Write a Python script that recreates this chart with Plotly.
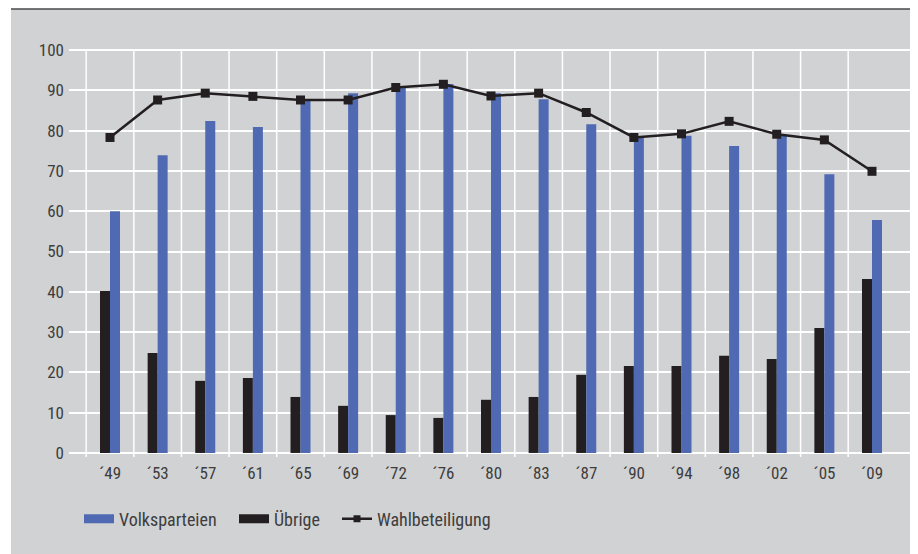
import plotly.graph_objects as go

years = ["´49", "´53", "´57", "´61", "´65", "´69", "´72", "´76", "´80",
         "´83", "´87", "´90", "´94", "´98", "´02", "´05", "´09"]
volksparteien = [60.0, 73.9, 82.4, 80.9, 87.7, 89.3, 90.7, 91.6, 89.3,
                 87.8, 81.6, 78.3, 78.7, 76.2, 78.8, 69.2, 57.8]
uebrige = [40.2, 24.8, 17.9, 18.6, 13.9, 11.7, 9.4, 8.7, 13.2,
           13.9, 19.4, 21.6, 21.6, 24.1, 23.3, 31.0, 43.2]
wahlbeteiligung = [78.3, 87.6, 89.3, 88.5, 87.6, 87.6, 90.7, 91.5, 88.6,
                   89.3, 84.5, 78.3, 79.2, 82.3, 79.1, 77.7, 69.9]
y_ticks = [0, 10, 20, 30, 40, 50, 60, 70, 80, 90, 100]

BLUE = "#4f69b2"
BLACK = "#231f20"
GRAY = "#d1d2d4"
TEXT = "#3d3d3d"
FONT = "Liberation Sans Narrow, Roboto Condensed, Open Sans, sans-serif"

OFF = 8  # page body margin of the browser
W, H = 918 - OFF, 554 - OFF
PL, PR, PT, PB = 69, 912, 46, 457  # plot area in screen pixels
idx = list(range(len(years)))


def px(p):
    return (p - PL) / (PR - PL)


def py(p):
    return (PB - p) / (PB - PT)


fig = go.Figure()
fig.add_trace(go.Bar(x=idx, y=uebrige, name="Übrige", marker_color=BLACK,
                     marker_line_width=0, width=0.21, offset=-0.21, showlegend=False))
fig.add_trace(go.Bar(x=idx, y=volksparteien, name="Volksparteien", marker_color=BLUE,
                     marker_line_width=0, width=0.21, offset=0.0, showlegend=False))
fig.add_trace(go.Scatter(x=idx, y=wahlbeteiligung, mode="lines+markers",
                         name="Wahlbeteiligung", showlegend=False,
                         line=dict(color=BLACK, width=2.5),
                         marker=dict(symbol="square", size=9, color=BLACK)))

# legend entries (one legend each, positioned like the reference)
fig.add_trace(go.Scatter(x=[None], y=[None], mode="lines", name="Volksparteien",
                         line=dict(color=BLUE, width=9), legend="legend"))
fig.add_trace(go.Scatter(x=[None], y=[None], mode="lines", name="Übrige",
                         line=dict(color=BLACK, width=9), legend="legend2"))
fig.add_trace(go.Scatter(x=[None], y=[None], mode="lines+markers", name="Wahlbeteiligung",
                         line=dict(color=BLACK, width=2.5),
                         marker=dict(symbol="square", size=7, color=BLACK),
                         legend="legend3"))

shapes = [
    dict(type="rect", xref="paper", yref="paper", x0=px(11), x1=px(PR), y0=py(9), y1=py(570),
         fillcolor=GRAY, line_width=0, layer="below"),
    dict(type="line", xref="paper", yref="paper", x0=px(11), x1=px(PR), y0=py(9), y1=py(9),
         line=dict(color="#4a4a4a", width=1.5), layer="above"),
]
for k in range(len(years)):
    shapes.append(dict(type="line", xref="x", yref="y", x0=k - 0.5, x1=k - 0.5,
                       y0=-2.5, y1=100, line=dict(color="white", width=1.5), layer="below"))
fig.update_layout(shapes=shapes)

leg_common = dict(orientation="h", yanchor="middle", xanchor="left",
                  bgcolor="rgba(0,0,0,0)", font=dict(family=FONT, size=18, color=TEXT))
fig.update_layout(
    width=W, height=H,
    margin=dict(l=PL - OFF, r=W + OFF - PR, t=PT - OFF, b=H + OFF - PB, pad=0),
    paper_bgcolor="white", plot_bgcolor=GRAY,
    barmode="overlay",
    font=dict(family=FONT, size=17, color=TEXT),
    legend=dict(x=px(79), y=py(519), **leg_common),
    legend2=dict(x=px(234), y=py(519), **leg_common),
    legend3=dict(x=px(337), y=py(519), **leg_common),
    xaxis=dict(range=[-0.861, 16.84], tickmode="array", tickvals=idx, ticktext=years,
               showgrid=False, zeroline=False, showline=False, ticks="",
               ticklabelstandoff=4, fixedrange=True),
    yaxis=dict(range=[-1, 101], tickmode="array", tickvals=y_ticks,
               showgrid=True, gridcolor="white", gridwidth=1.5, zeroline=False,
               showline=False, ticks="", ticklabelstandoff=4, fixedrange=True),
)

fig.write_html("out.html")
